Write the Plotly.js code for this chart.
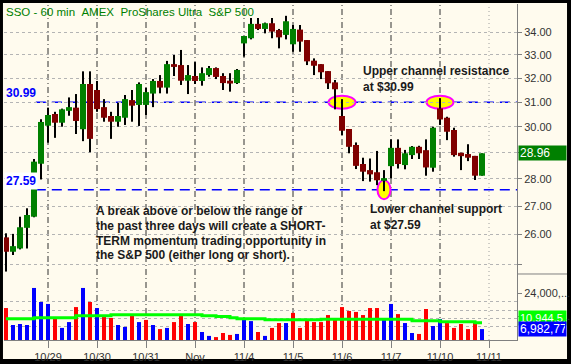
<!DOCTYPE html>
<html><head><meta charset="utf-8">
<script src="https://cdn.plot.ly/plotly-3.0.1.min.js"></script>
<style>html,body{margin:0;padding:0;background:#000;}#chart{width:571px;height:364px;}</style>
</head><body><div id="chart"></div>
<script>
// ---- data (hourly bars, SSO 60 min) ----
const dayLabels = ['10/29','10/30','10/31','Nov','11/4','11/5','11/6','11/7','11/10','11/11'];
const dayStarts = [6,13,20,27,34,41,48,55,62,69];

const openP = [25.90,25.41,25.52,26.23,26.62,28.56,30.04,30.51,30.16,30.64,
30.77,29.90,31.75,31.50,30.79,30.43,30.20,30.36,31.08,30.88,
30.88,31.35,31.88,31.60,32.60,32.56,31.89,32.09,31.88,32.13,
32.43,32.09,31.89,31.79,33.51,33.74,34.39,34.16,34.42,34.11,
33.89,33.47,34.13,33.66,32.75,32.60,32.30,31.82,30.43,29.91,
29.28,28.55,28.32,28.24,27.92,28.47,29.17,28.51,28.89,29.21,
29.08,28.41,30.74,30.36,29.87,28.98,28.93,28.86,28.11];
const highP = [26.04,26.02,26.62,26.92,28.74,30.30,30.77,30.60,30.73,31.19,
31.33,32.29,32.29,31.88,31.12,30.60,30.97,31.29,31.50,31.82,
31.59,31.96,32.13,32.74,33.00,33.22,32.56,32.69,32.46,32.52,
32.46,32.21,32.21,32.39,33.84,34.66,34.66,34.45,34.66,34.16,
34.76,34.34,34.34,33.66,32.85,32.60,32.30,31.92,31.12,29.91,
29.38,28.79,28.76,29.05,28.32,29.50,29.50,29.09,29.24,29.25,
29.50,30.00,31.16,30.40,29.96,28.98,29.31,28.86,28.96];
const lowP = [24.75,25.30,25.49,25.52,26.60,27.97,29.37,29.56,30.00,30.44,
29.71,29.43,29.00,30.60,30.20,29.52,30.00,30.07,30.20,30.03,
30.47,30.79,31.36,31.35,32.09,31.71,31.33,31.75,31.68,32.06,
31.96,31.50,31.43,31.75,32.92,33.69,34.11,33.96,33.74,33.29,
33.69,33.14,33.14,32.56,32.13,31.96,31.54,30.70,29.67,28.96,
28.36,27.91,27.89,27.76,27.54,28.01,28.38,28.35,28.74,28.74,
28.11,28.26,30.07,29.47,28.83,28.32,28.66,27.95,28.11];
const closeP = [25.41,25.60,26.25,26.68,28.64,30.19,30.47,30.16,30.70,30.79,
30.23,31.75,29.52,30.71,30.36,30.20,30.43,31.12,30.85,31.75,
31.41,31.88,31.60,32.60,32.48,31.89,32.13,31.88,32.21,32.43,
32.05,31.79,31.77,32.35,33.84,34.39,34.16,34.42,34.04,33.78,
34.51,34.16,33.59,32.72,32.53,32.25,31.78,31.53,29.84,29.21,
28.48,28.26,28.16,27.94,28.02,29.17,28.55,28.96,29.21,28.96,
28.42,29.96,30.29,29.80,28.89,28.85,28.79,28.11,28.96];
// volume in millions of shares
const volumeM = [16.4,7.7,8.2,7.7,26.7,19.5,18.5,11.3,6.2,9.2,
16.9,26.7,19.5,16.4,12.8,11.3,7.7,6.7,13.3,9.2,
10.3,7.7,5.6,6.2,9.2,12.8,8.2,9.2,4.1,2.1,
1.5,3.6,2.6,3.1,10.3,9.7,4.1,2.1,6.2,8.7,
8.7,13.9,6.2,10.8,9.2,9.2,12.8,11.3,16.9,14.9,
14.4,12.8,16.4,16.4,10.8,18.5,13.3,8.7,3.6,3.1,
15.9,7.2,10.8,8.7,6.2,8.2,5.6,8.7,5.6];
const volumeMA = [10.9,10.9,10.9,10.9,11.4,11.4,11.4,11.4,11.4,11.4,
12.5,12.5,12.5,12.5,12.5,13.0,13.0,13.0,13.0,13.0,
13.0,13.0,13.0,13.0,13.0,13.0,13.0,13.0,12.5,12.5,
12.0,12.0,11.4,10.9,10.9,10.9,10.9,10.4,10.4,10.4,
10.4,10.4,10.4,10.4,10.4,10.6,10.6,10.6,10.6,10.6,
10.6,10.6,10.6,10.6,10.6,10.6,10.6,10.6,9.9,9.9,
9.9,9.9,9.4,9.4,9.4,9.4,9.4,8.8,8.8];

const priceTicks = [25,26,27,28,29,30,31,32,33,34];
const volumeTicks = [12,24];
const volumeTickText = ['12,000,...','24,000,...'];
const upperChannel = 30.99, lowerChannel = 27.59, lastPrice = 28.96;
const resistanceBars = [48, 62], supportBar = 54;
const lastVolumeText = '6,982,775', lastMAText = '10,944,5...';
const titleText = 'SSO\u00a0-\u00a060\u00a0min\u00a0\u00a0AMEX\u00a0\u00a0ProShares\u00a0Ultra\u00a0\u00a0S&amp;P\u00a0500';
const noteLines = ['A break above or below the range of',
                   'the past three days will create a SHORT-',
                   'TERM momentum trading opportunity in',
                   'the S&amp;P 500 (either long or short).'];

// ---- derived ----
const idx = openP.map((_, i) => i);
const wickLen = highP.map((h, i) => h - lowP[i]);
const bodyBase = openP.map((o, i) => Math.min(o, closeP[i]));
const bodyLen = openP.map((o, i) => Math.max(Math.abs(closeP[i] - o), 0.02));
const bodyColor = openP.map((o, i) => closeP[i] >= o ? '#008000' : '#800000');
const volColor = closeP.map((c, i) => (i > 0 && c > closeP[i - 1]) ? '#0000ff' : '#ff0000');

const FONT = 'Liberation Sans, Arial, sans-serif';
const CREAM = '#fffbee';

const traces = [
  {type:'bar', x:idx, base:lowP, y:wickLen, width:0.29, xaxis:'x', yaxis:'y2',
   marker:{color:'#000000', line:{width:0}}, hoverinfo:'skip'},
  {type:'bar', x:idx, base:bodyBase, y:bodyLen, width:0.86, xaxis:'x', yaxis:'y2',
   marker:{color:bodyColor, line:{width:0}}, hoverinfo:'skip'},
  {type:'bar', x:idx, y:volumeM, width:0.57, xaxis:'x', yaxis:'y',
   marker:{color:volColor, line:{width:0}}, hoverinfo:'skip'},
  {type:'scatter', mode:'lines', x:idx, y:volumeMA, xaxis:'x', yaxis:'y',
   line:{color:'#00ff00', width:3, shape:'hv'}, hoverinfo:'skip'}
];

const shapes = [
  {type:'rect', xref:'paper', yref:'paper', x0:-0.002, x1:1.0975, y0:-0.0565, y1:1.003,
   fillcolor:CREAM, line:{width:0}, layer:'below'},
  {type:'line', xref:'paper', yref:'paper', x0:1, x1:1.0975, y0:0.19643, y1:0.19643,
   line:{color:'#808080', width:1}}
];
dayStarts.forEach((d, k) => {
  const future = k === dayStarts.length - 1;
  shapes.push({type:'line', xref:'x', yref:'paper', x0:d, x1:d, y0:0, y1:1, layer:'below',
    line:{color: future ? '#a0a0a0' : '#303030', width:1, dash: future ? '1px,3px' : '6px,3px,1px,3px'}});
});
[upperChannel, lowerChannel].forEach(v => {
  shapes.push({type:'line', xref:'paper', yref:'y2', x0:0.062, x1:1, y0:v, y1:v, layer:'below',
    line:{color:'#0000ff', width:1.5, dash:'10px,6px'}});
});
// marker ellipses (half-width in bars, half-height as price ratio)
const ellipse = (b, v, hw, hr) => ({type:'circle', xref:'x', yref:'y2',
  x0:b - hw, x1:b + hw, y0:v / hr, y1:v * hr, layer:'below',
  fillcolor:'#ffff00', opacity:1, line:{color:'#ff00ff', width:2}});
resistanceBars.forEach(b => shapes.push(ellipse(b, upperChannel, 1.93, 1.0087)));
shapes.push(ellipse(supportBar, lowerChannel, 0.93, 1.0127));

const txt = (s) => ({family:FONT, size:s, color:'#1a1a1a'});
const annotations = [
  {xref:'paper', yref:'paper', x:0, y:1, xanchor:'left', yanchor:'top', showarrow:false,
   text:titleText, font:{family:FONT, size:11.5, color:'#008000'}},
  {xref:'paper', yref:'y2', x:0, y:Math.log10(upperChannel), xanchor:'left', yanchor:'bottom', showarrow:false,
   text:'<b>' + upperChannel.toFixed(2) + '</b>', font:{family:FONT, size:12, color:'#0000ff'}},
  {xref:'paper', yref:'y2', x:0, y:Math.log10(lowerChannel), xanchor:'left', yanchor:'bottom', showarrow:false,
   text:'<b>' + lowerChannel.toFixed(2) + '</b>', font:{family:FONT, size:12, color:'#0000ff'}, bgcolor:'#ffffff'},
  {xref:'paper', yref:'paper', x:0.6955, y:0.8274, xanchor:'left', yanchor:'top', align:'left', showarrow:false,
   text:'<b>Upper channel resistance<br>at $' + upperChannel.toFixed(2) + '</b>', font:txt(12)},
  {xref:'paper', yref:'paper', x:0.7095, y:0.4167, xanchor:'left', yanchor:'top', align:'left', showarrow:false,
   text:'<b>Lower channel support<br>at $' + lowerChannel.toFixed(2) + '</b>', font:txt(12)},
  {xref:'paper', yref:'y2', x:1, y:Math.log10(lastPrice), xanchor:'left', yanchor:'middle', xshift:1, showarrow:false,
   text:lastPrice.toFixed(2), font:{family:FONT, size:12, color:'#ffffff'}, bgcolor:'#008000',
   width:45, height:12, align:'left', borderpad:1},
  {xref:'paper', yref:'y', x:1, y:volumeMA[volumeMA.length-1], xanchor:'left', yanchor:'middle', xshift:1, showarrow:false,
   text:lastMAText, font:{family:FONT, size:11, color:'#ffffff'}, bgcolor:'#00ff00',
   width:45, height:12, align:'left', borderpad:1, yshift:5},
  {xref:'paper', yref:'y', x:1, y:volumeM[volumeM.length-1], xanchor:'left', yanchor:'middle', xshift:1, showarrow:false,
   text:lastVolumeText, font:{family:FONT, size:12, color:'#ffffff'}, bgcolor:'#0000ff',
   width:45, height:12, align:'left', borderpad:1}
];
// commentary block: one annotation per line, 14.8 px apart
noteLines.forEach((line, k) => {
  annotations.push({xref:'paper', yref:'paper', x:0.1745, y:0.3839, yshift:-14.8 * k,
    xanchor:'left', yanchor:'middle', align:'left', showarrow:false,
    text:'<b>' + line + '</b>', font:txt(12)});
});

const axisFont = {family:FONT, size:11, color:'#333333'};
const layout = {
  width:571, height:364,
  margin:{l:4, r:54, t:4, b:24, pad:0},
  paper_bgcolor:'#000000', plot_bgcolor:CREAM,
  showlegend:false, barmode:'overlay', hovermode:false,
  xaxis:{range:[-0.2857, 73], tickmode:'array', tickvals:dayStarts, ticktext:dayLabels,
    showgrid:false, zeroline:false, showline:true, linecolor:'#808080', linewidth:1,
    ticks:'outside', ticklen:7, tickcolor:'#808080', tickfont:axisFont, anchor:'y', fixedrange:true},
  yaxis:{domain:[0, 0.19643], range:[0, 33.86], side:'right', tickmode:'array',
    tickvals:volumeTicks, ticktext:volumeTickText, ticks:'outside', ticklen:4, tickcolor:'#808080',
    showgrid:false, zeroline:false, showline:true, linecolor:'#808080', tickfont:axisFont,
    minor:{tickmode:'array', tickvals:[6.7,10.9,15.2,19.5], showgrid:true, gridcolor:'#b4b4b4', griddash:'dot', ticks:''}},
  yaxis2:{domain:[0.19643, 1], type:'log', range:[1.39217, 1.54790], side:'right', anchor:'x',
    tickmode:'array', tickvals:priceTicks, ticktext:priceTicks.map(v => v === 25 ? '' : v.toFixed(2)),
    ticks:'outside', ticklen:4, tickcolor:'#808080', showgrid:true, gridcolor:'#b4b4b4', griddash:'dot',
    zeroline:false, showline:true, linecolor:'#808080', tickfont:axisFont},
  shapes:shapes,
  annotations:annotations
};

Plotly.newPlot('chart', traces, layout, {staticPlot:true, displayModeBar:false});
</script></body></html>
